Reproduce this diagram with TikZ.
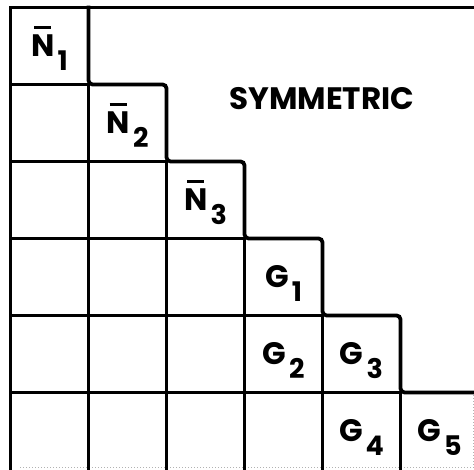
\documentclass[tikz,border=0pt]{standalone}
\usepackage{fontspec}
\setmainfont{Poppins}
\usepackage{tikz}

% bar over a letter and a lowered index, as in the print
\newcommand{\barN}{\leavevmode\rlap{\hspace{0.1em}\rule[0.9em]{0.55em}{0.08em}}N}
\newcommand{\lowidx}[1]{\hspace{0.1em}\raisebox{-0.45em}{\fontsize{13.5}{14}\selectfont #1}}

\tikzset{
	gridline/.style={line width=1.9pt, line cap=rect},
	cutline/.style={line width=0.5pt, gray!60, densely dotted},
	blocklabel/.style={font=\fontsize{15.5}{18}\selectfont\bfseries, inner sep=0pt, text height=10.9pt, text depth=0pt}
}

\begin{document}
\begin{tikzpicture}[x=39pt, y=38.5pt]
	\useasboundingbox (-0.135,0.097) rectangle (5.942,-5.994);
	% outer frame, cut at the right and bottom edge
	\draw[gridline] (6.2,0) -- (0,0) -- (0,-6.2);
	\draw[cutline] (5.93,-5.0) -- (5.93,-5.98) -- (0.1,-5.98);
	% staircase of the diagonal blocks
	\draw[gridline, rounded corners=2pt] (1,0) -- (1,-1) -- (2,-1) -- (2,-2) -- (3,-2) -- (3,-3) -- (4,-3) -- (4,-4) -- (5,-4) -- (5,-5) -- (6.2,-5);
	% lower triangle
	\foreach \k in {1,...,5} {
		\draw[gridline] (0,-\k) -- (\k,-\k);
		\draw[gridline] (\k,-\k) -- (\k,-6.2);
	}
	% labels
	\node[blocklabel] (n1) at (0.5,-0.5) {\barN\lowidx{1}};
	\node[blocklabel] (n2) at (1.5,-1.5) {\barN\lowidx{2}};
	\node[blocklabel] (n3) at (2.5,-2.5) {\barN\lowidx{3}};
	\node[blocklabel] (g1) at (3.5,-3.5) {G\lowidx{1}};
	\node[blocklabel] (g2) at (3.5,-4.5) {G\lowidx{2}};
	\node[blocklabel] (g3) at (4.5,-4.5) {G\lowidx{3}};
	\node[blocklabel] (g4) at (4.5,-5.5) {G\lowidx{4}};
	\node[blocklabel] (g5) at (5.5,-5.5) {G\lowidx{5}};
	\node[blocklabel] (sym) at (3.99,-1.18) {SYMMETRIC};
\end{tikzpicture}
\end{document}
